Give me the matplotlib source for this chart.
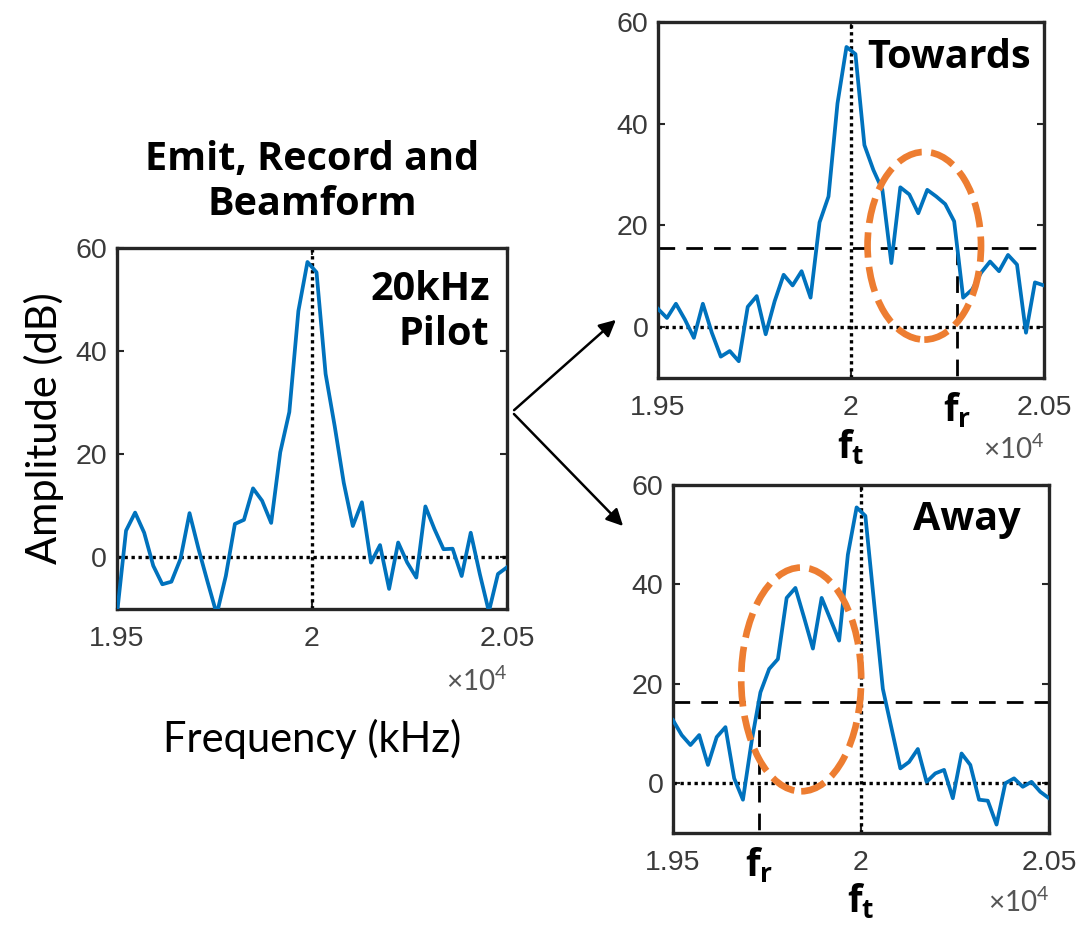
import numpy as np
import matplotlib.pyplot as plt
from matplotlib.patches import Ellipse, FancyArrowPatch

plt.rcParams['font.family'] = ['Lato', 'DejaVu Sans']
plt.rcParams['mathtext.fontset'] = 'custom'
plt.rcParams['mathtext.rm'] = 'Liberation Sans'
plt.rcParams['mathtext.bf'] = 'Open Sans:bold'

# spectra (dB) on a 44-bin grid from 19.5 kHz to 20.5 kHz
pilot_db = [-11, 5.2, 8.7, 4.8, -1.6, -5.2, -4.7, -0.3, 8.6, 1.6, -4.8, -11,
            -3.6, 6.5, 7.3, 13.4, 11.0, 6.7, 20.4, 28.2, 47.8, 57.3, 55.3, 35.6,
            25.5, 14.5, 6.1, 10.7, -1.0, 2.4, -6.1, 2.9, -1.0, -3.9, 9.9, 5.5,
            1.6, 1.7, -3.6, 4.8, -3.2, -10.5, -3.2, -1.9]
towards_db = [3.6, 1.8, 4.6, 1.5, -2.1, 4.6, -1.1, -5.8, -4.7, -6.7, 4.0, 6.1,
              -1.4, 5.1, 10.3, 8.2, 11.0, 5.8, 20.6, 25.7, 44.0, 55.1, 53.7, 35.8,
              30.9, 27.0, 12.6, 27.5, 26.1, 22.4, 27.0, 25.7, 24.2, 20.8, 5.8, 7.4,
              10.7, 12.9, 11.0, 14.2, 12.3, -1.1, 8.8, 8.2]
away_db = [12.7, 9.7, 7.7, 9.7, 3.7, 9.3, 11.3, 1.0, -3.3, 8.5, 18.3, 23.0,
           25.0, 37.3, 39.3, 33.3, 27.1, 37.3, 33.0, 28.7, 46.0, 55.5, 53.8, 36.3,
           19.0, 11.0, 3.0, 4.3, 6.9, 0.3, 2.0, 2.7, -3.0, 6.0, 3.7, -3.3,
           -3.5, -8.3, 0.0, 1.0, -0.7, 0.3, -1.7, -3.0]
freq = np.linspace(19500, 20500, len(pilot_db))

f_pilot = 20000
thr_towards, fr_towards = 15.6, 20276
thr_away, fr_away = 16.3, 19730
xticks = [19500, 20000, 20500]
xticklabels = ['1.95', '2', '2.05']
yticks = [0, 20, 40, 60]

BLUE = '#0072BD'
ORANGE = '#ED7D31'
GRAY = '#262626'
BOLD = dict(family=['Open Sans', 'DejaVu Sans'], fontweight='bold')

fig = plt.figure(figsize=(10.79, 9.26), dpi=100)
ax_l = fig.add_axes([0.1084, 0.3423, 0.3615, 0.3898])
ax_t = fig.add_axes([0.6098, 0.5918, 0.3577, 0.3844])
ax_b = fig.add_axes([0.6237, 0.1004, 0.3485, 0.3758])

DOT = (0, (1, 1.1))
DASH = (0, (6, 4))


def style(ax, y):
    ax.plot(freq, y, color=BLUE, lw=2.7, zorder=3)
    ax.axvline(f_pilot, color='k', ls=DOT, lw=2.4, zorder=2)
    ax.axhline(0, color='k', ls=DOT, lw=2.4, zorder=2)
    ax.set_xlim(19500, 20500)
    ax.set_ylim(-10, 60)
    ax.set_xticks(xticks)
    ax.set_xticklabels(xticklabels)
    ax.set_yticks(yticks)
    ax.tick_params(direction='in', top=True, right=True, length=5, width=1.5,
                   color=GRAY, labelcolor='#3a3a3a', labelsize=20.5)
    ax.tick_params(axis='x', pad=12)
    ax.tick_params(axis='y', pad=7)
    for lab in ax.get_xticklabels() + ax.get_yticklabels():
        lab.set_family('Liberation Sans')
    for sp in ax.spines.values():
        sp.set_linewidth(2.4)
        sp.set_color(GRAY)
    ax.text(1.0, -0.2, r'$\times\mathregular{10^{4}}$', transform=ax.transAxes,
            ha='right', va='center', fontsize=20, color='#555555')


style(ax_l, pilot_db)
style(ax_t, towards_db)
style(ax_b, away_db)

ax_l.set_ylabel('Amplitude (dB)', fontsize=30, labelpad=8)
ax_l.set_xlabel('Frequency (kHz)', fontsize=30, labelpad=48)
ax_l.set_title('Emit, Record and\nBeamform', fontsize=28.5, linespacing=1.2,
               pad=24, **BOLD)
ax_l.text(0.955, 0.94, '20kHz\nPilot', transform=ax_l.transAxes, ha='right',
          va='top', fontsize=28.5, linespacing=1.2, **BOLD)
ax_t.text(0.965, 0.9, 'Towards', transform=ax_t.transAxes, ha='right',
          va='center', fontsize=28.5, **BOLD)
ax_b.text(0.925, 0.9, 'Away', transform=ax_b.transAxes, ha='right',
          va='center', fontsize=28.5, **BOLD)

# threshold and reflected-frequency markers
for ax, thr, fr in [(ax_t, thr_towards, fr_towards), (ax_b, thr_away, fr_away)]:
    ax.axhline(thr, color='k', ls=DASH, lw=2.0, zorder=2)
    ax.plot([fr, fr], [thr, -11.2], color='k', ls=DASH, lw=2.0,
            clip_on=False, zorder=2)
    ax.text(fr, -0.035, r'$\mathbf{f_r}$', transform=ax.get_xaxis_transform(),
            ha='center', va='top', fontsize=27)
    ax.text(f_pilot, -0.14, r'$\mathbf{f_t}$', transform=ax.get_xaxis_transform(),
            ha='center', va='top', fontsize=27)

ax_t.add_patch(Ellipse((20190, 16.0), 294, 36.9, fill=False, ec=ORANGE, lw=4.8,
                       ls=(0, (3.8, 1.4)), clip_on=False, zorder=4))
ax_b.add_patch(Ellipse((19841, 20.9), 319, 45.0, fill=False, ec=ORANGE, lw=4.8,
                       ls=(0, (3.8, 1.4)), clip_on=False, zorder=4))

W, H = 1079, 926
for end in [(618, 318), (625, 528)]:
    fig.add_artist(FancyArrowPatch((512 / W, 1 - 412 / H), (end[0] / W, 1 - end[1] / H),
                                   transform=fig.transFigure, arrowstyle='-|>',
                                   mutation_scale=25, lw=1.8, color='k'))

fig.savefig('out.png', dpi=100)
